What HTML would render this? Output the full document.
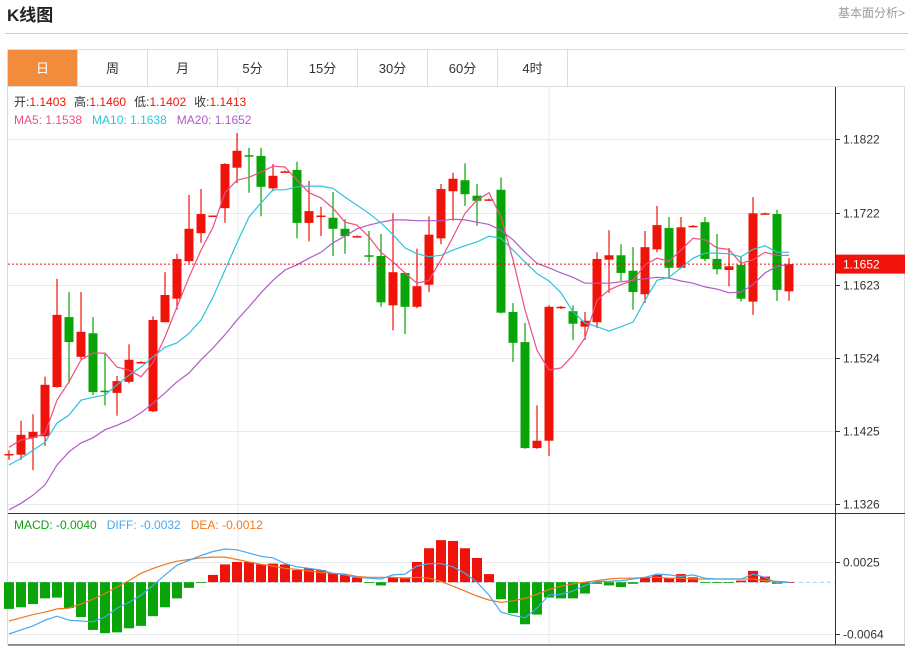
<!DOCTYPE html>
<html><head><meta charset="utf-8"><style>
html,body{margin:0;padding:0;background:#fff;}
svg{display:block;font-family:"Liberation Sans","Noto Sans CJK SC",sans-serif;}
</style></head><body>
<svg id="svg" width="909" height="646" xmlns="http://www.w3.org/2000/svg">
<text x="7" y="21" font-size="17" font-weight="bold" fill="#222">K线图</text>
<text x="905" y="17" font-size="12" fill="#999" text-anchor="end">基本面分析&gt;</text>
<line x1="5" y1="33.5" x2="908" y2="33.5" stroke="#ccc"/>
<g id="tabs"></g>
<rect x="7.5" y="86.5" width="897" height="558" fill="none" stroke="#ddd"/>
<g id="grid"></g>
<g id="plot"></g>
<g id="axis"></g>
<text x="14" y="106" font-size="12"><tspan fill="#333">开:</tspan><tspan fill="#f0130a">1.1403</tspan><tspan fill="#333" dx="8">高:</tspan><tspan fill="#f0130a">1.1460</tspan><tspan fill="#333" dx="8">低:</tspan><tspan fill="#f0130a">1.1402</tspan><tspan fill="#333" dx="8">收:</tspan><tspan fill="#f0130a">1.1413</tspan></text>
<text x="14" y="124" font-size="12"><tspan fill="#ee4f82">MA5: 1.1538</tspan><tspan fill="#2fc3dc" dx="10">MA10: 1.1638</tspan><tspan fill="#b05bc8" dx="10">MA20: 1.1652</tspan></text>
<text x="14" y="529" font-size="12"><tspan fill="#10a010">MACD: -0.0040</tspan><tspan fill="#4aa8f0" dx="10">DIFF: -0.0032</tspan><tspan fill="#f07820" dx="10">DEA: -0.0012</tspan></text>
</svg>
<script>
const opens=[1.1393,1.1393,1.1416,1.1418,1.1485,1.1580,1.1526,1.1558,1.1480,1.1477,1.1492,1.1518,1.1452,1.1573,1.1605,1.1656,1.1694,1.1717,1.1728,1.1783,1.1800,1.1799,1.1755,1.1777,1.1780,1.1708,1.1717,1.1715,1.1700,1.1689,1.1664,1.1663,1.1596,1.1640,1.1594,1.1624,1.1687,1.1751,1.1766,1.1745,1.1739,1.1753,1.1587,1.1546,1.1402,1.1412,1.1592,1.1588,1.1567,1.1573,1.1658,1.1664,1.1643,1.1611,1.1672,1.1701,1.1647,1.1702,1.1709,1.1659,1.1644,1.1651,1.1601,1.1720,1.1720,1.1615];
const closes=[1.1394,1.1420,1.1424,1.1488,1.1583,1.1546,1.1560,1.1478,1.1478,1.1493,1.1522,1.1519,1.1576,1.1610,1.1659,1.1700,1.1720,1.1718,1.1788,1.1806,1.1799,1.1757,1.1772,1.1778,1.1708,1.1724,1.1718,1.1700,1.1690,1.1690,1.1663,1.1600,1.1641,1.1594,1.1622,1.1692,1.1754,1.1768,1.1747,1.1738,1.1740,1.1586,1.1545,1.1402,1.1412,1.1594,1.1594,1.1571,1.1575,1.1659,1.1664,1.1640,1.1614,1.1675,1.1705,1.1647,1.1702,1.1704,1.1659,1.1645,1.1649,1.1605,1.1721,1.1721,1.1617,1.1652];
const highs=[1.1399,1.1439,1.1448,1.1499,1.1632,1.1614,1.1614,1.1580,1.1530,1.1500,1.1543,1.1520,1.1581,1.1641,1.1666,1.1746,1.1754,1.1718,1.1789,1.1830,1.1810,1.1810,1.1788,1.1779,1.1791,1.1765,1.1730,1.1750,1.1713,1.1691,1.1697,1.1693,1.1721,1.1641,1.1673,1.1717,1.1761,1.1776,1.1789,1.1761,1.1741,1.1770,1.1599,1.1572,1.1460,1.1596,1.1595,1.1596,1.1587,1.1668,1.1698,1.1679,1.1675,1.1697,1.1731,1.1716,1.1716,1.1705,1.1716,1.1693,1.1674,1.1662,1.1743,1.1722,1.1726,1.1660];
const lows=[1.1386,1.1386,1.1372,1.1405,1.1484,1.1490,1.1523,1.1474,1.1460,1.1446,1.1490,1.1518,1.1451,1.1573,1.1590,1.1653,1.1681,1.1717,1.1708,1.1762,1.1749,1.1717,1.1751,1.1776,1.1687,1.1683,1.1690,1.1663,1.1666,1.1689,1.1655,1.1594,1.1562,1.1557,1.1592,1.1614,1.1679,1.1711,1.1731,1.1704,1.1739,1.1585,1.1519,1.1401,1.1401,1.1391,1.1591,1.1549,1.1549,1.1565,1.1613,1.1629,1.1590,1.1599,1.1668,1.1632,1.1647,1.1702,1.1656,1.1638,1.1622,1.1601,1.1583,1.1720,1.1602,1.1602];
const ma5=[1.1403,1.1413,1.1416,1.1422,1.1467,1.1492,1.1522,1.1531,1.1531,1.1512,1.1508,1.1499,1.1518,1.1553,1.1594,1.1634,1.1671,1.1702,1.1749,1.1766,1.1770,1.1777,1.1785,1.1784,1.1766,1.1749,1.1742,1.1728,1.1709,1.1705,1.1689,1.1668,1.1655,1.1640,1.1626,1.1630,1.1658,1.1689,1.1721,1.1739,1.1749,1.1716,1.1658,1.1590,1.1535,1.1508,1.1511,1.1528,1.1552,1.1603,1.1617,1.1624,1.1630,1.1651,1.1660,1.1656,1.1671,1.1687,1.1685,1.1674,1.1672,1.1653,1.1658,1.1668,1.1664,1.1664];
const ma10=[1.1379,1.1388,1.1399,1.1410,1.1436,1.1447,1.1467,1.1471,1.1474,1.1488,1.1501,1.1512,1.1526,1.1539,1.1545,1.1558,1.1576,1.1607,1.1644,1.1681,1.1716,1.1735,1.1753,1.1753,1.1757,1.1758,1.1758,1.1755,1.1743,1.1732,1.1721,1.1708,1.1692,1.1674,1.1666,1.1662,1.1664,1.1671,1.1677,1.1682,1.1690,1.1687,1.1671,1.1655,1.1639,1.1629,1.1613,1.1587,1.1572,1.1567,1.1561,1.1567,1.1573,1.1603,1.1630,1.1634,1.1647,1.1660,1.1667,1.1667,1.1666,1.1662,1.1672,1.1677,1.1668,1.1668];
const ma20=[1.1318,1.1327,1.1338,1.1352,1.1379,1.1397,1.1409,1.1416,1.1427,1.1433,1.1440,1.1450,1.1463,1.1477,1.1492,1.1504,1.1522,1.1538,1.1556,1.1576,1.1594,1.1613,1.1630,1.1644,1.1651,1.1660,1.1668,1.1681,1.1690,1.1700,1.1705,1.1709,1.1712,1.1712,1.1711,1.1711,1.1711,1.1713,1.1712,1.1709,1.1706,1.1698,1.1685,1.1668,1.1653,1.1647,1.1640,1.1634,1.1626,1.1626,1.1626,1.1628,1.1630,1.1632,1.1634,1.1633,1.1629,1.1626,1.1621,1.1618,1.1613,1.1614,1.1624,1.1640,1.1649,1.1652];
const macd=[-0.0033,-0.0031,-0.0027,-0.0020,-0.0019,-0.0032,-0.0043,-0.0059,-0.0063,-0.0062,-0.0057,-0.0054,-0.0042,-0.0031,-0.0020,-0.0007,-0.0001,0.0009,0.0022,0.0025,0.0025,0.0022,0.0023,0.0022,0.0015,0.0017,0.0015,0.0011,0.0009,0.0006,-0.0001,-0.0004,0.0006,0.0006,0.0025,0.0042,0.0052,0.0051,0.0042,0.0030,0.0010,-0.0021,-0.0038,-0.0052,-0.0040,-0.0019,-0.0020,-0.0020,-0.0014,-0.0002,-0.0004,-0.0006,-0.0002,0.0006,0.0009,0.0005,0.0010,0.0006,-0.0001,-0.0001,-0.0001,0.0002,0.0014,0.0007,-0.0002,0.0000];
const diff=[-0.0064,-0.0059,-0.0054,-0.0047,-0.0042,-0.0047,-0.0048,-0.0049,-0.0043,-0.0032,-0.0025,-0.0016,-0.0004,0.0009,0.0021,0.0027,0.0033,0.0038,0.0041,0.0040,0.0036,0.0032,0.0030,0.0023,0.0019,0.0017,0.0015,0.0011,0.0009,0.0006,0.0005,0.0004,0.0009,0.0010,0.0020,0.0023,0.0023,0.0019,0.0011,0.0000,-0.0016,-0.0037,-0.0041,-0.0044,-0.0032,-0.0016,-0.0015,-0.0011,-0.0004,0.0001,0.0001,0.0002,0.0004,0.0006,0.0010,0.0009,0.0007,0.0009,0.0005,0.0004,0.0004,0.0004,0.0010,0.0006,-0.0001,0.0000];
const dea=[-0.0048,-0.0044,-0.0040,-0.0037,-0.0033,-0.0032,-0.0027,-0.0021,-0.0014,-0.0006,0.0002,0.0011,0.0017,0.0022,0.0026,0.0028,0.0030,0.0031,0.0031,0.0028,0.0025,0.0022,0.0020,0.0017,0.0016,0.0014,0.0012,0.0011,0.0010,0.0007,0.0006,0.0006,0.0006,0.0005,0.0006,0.0005,0.0001,-0.0005,-0.0011,-0.0017,-0.0022,-0.0025,-0.0023,-0.0020,-0.0015,-0.0009,-0.0005,-0.0002,0.0000,0.0002,0.0004,0.0005,0.0005,0.0006,0.0006,0.0005,0.0005,0.0004,0.0004,0.0004,0.0004,0.0004,0.0004,0.0002,0.0001,0.0000];
const priceTicks=[1.1822,1.1722,1.1623,1.1524,1.1425,1.1326];
const macdTicks=[0.0025,-0.0064];
const tabLabels=['日','周','月','5分','15分','30分','60分','4时'];

const NS='http://www.w3.org/2000/svg';
function el(tag,attrs,parent){const e=document.createElementNS(NS,tag);for(const k in attrs)e.setAttribute(k,attrs[k]);parent.appendChild(e);return e;}
const xOf=i=>9+12*i;
const yP=p=>139+(1.1822-p)*(365/(1.1822-1.1326));
const yM=v=>582.2-v*(72/0.0089);
const tabs=document.getElementById('tabs'),grid=document.getElementById('grid'),plot=document.getElementById('plot'),axis=document.getElementById('axis');

tabLabels.forEach((t,i)=>{
  const g=el('g',{},tabs);
  
  
  el('rect',{x:7.5+70*i,y:49.5,width:70,height:37,fill:i===0?'#f28c3c':'#fff',stroke:'#ddd'},g);
  const tx=el('text',{x:42.5+70*i,y:73,'font-size':13,'text-anchor':'middle',fill:i===0?'#fff':'#333'},g);
  tx.textContent=t;
});
el('line',{x1:567,y1:49.5,x2:905,y2:49.5,stroke:'#ddd'},tabs);

[238,549].forEach(x=>{el('line',{x1:x,y1:87,x2:x,y2:644,stroke:'#e6ebf0'},grid);});
priceTicks.forEach(p=>{
  const y=Math.round(yP(p))+0.5;
  el('line',{x1:8,y1:y,x2:835,y2:y,stroke:'#e6ebf0'},grid);
  el('line',{x1:835,y1:y,x2:840,y2:y,stroke:'#333'},axis);
  const t=el('text',{x:843,y:y+4,'font-size':12,fill:'#333'},axis);
  
  
  t.textContent=p.toFixed(4);
});
macdTicks.forEach(v=>{
  const y=Math.round(yM(v))+0.5;
  el('line',{x1:8,y1:y,x2:835,y2:y,stroke:'#e6ebf0'},grid);
  el('line',{x1:835,y1:y,x2:840,y2:y,stroke:'#333'},axis);
  const t=el('text',{x:843,y:y+4,'font-size':12,fill:'#333'},axis);
  
  
  t.textContent=v.toFixed(4);
});
el('line',{x1:835.5,y1:87,x2:835.5,y2:645,stroke:'#333'},axis);
el('line',{x1:8,y1:513.5,x2:905,y2:513.5,stroke:'#333'},axis);
el('line',{x1:8,y1:645,x2:905,y2:645,stroke:'#333'},axis);

// candles
closes.forEach((c,i)=>{
  const o=opens[i],up=c>=o,col=up?'#f0130a':'#08a408',x=xOf(i);
  const g=el('g',{},plot);
  
  
  el('line',{x1:x,y1:yP(highs[i]),x2:x,y2:yP(lows[i]),stroke:col,'stroke-width':1.2},g);
  const top=yP(Math.max(o,c)),h=Math.max(1.5,Math.abs(yP(o)-yP(c)));
  el('rect',{x:x-4.5,y:top,width:9,height:h,fill:col},g);
});
function line(arr,fy,col,name){
  const p=el('polyline',{points:arr.map((v,i)=>xOf(i)+','+fy(v).toFixed(1)).join(' '),fill:'none',stroke:col,'stroke-width':1.2},plot);
  
  
}
line(ma20,yP,'#b05bc8','ma20-line');
line(ma10,yP,'#2fc3dc','ma10-line');
line(ma5,yP,'#ee4f82','ma5-line');

// current price line
const last=closes[closes.length-1],ly=yP(last);
el('line',{x1:8,y1:ly,x2:835,y2:ly,stroke:'#f0130a','stroke-dasharray':'2,2'},plot);
el('rect',{x:836,y:ly-9.5,width:69,height:19,fill:'#f0130a'},axis);
const lt=el('text',{x:843,y:ly+4.5,'font-size':12,fill:'#fff'},axis);


lt.textContent=last.toFixed(4);

// macd
el('line',{x1:8,y1:yM(0),x2:835,y2:yM(0),stroke:'#9fd4ee','stroke-dasharray':'4,3'},plot);
macd.forEach((v,i)=>{
  const y0=yM(0),y1=yM(v);
  const r=el('rect',{x:xOf(i)-5,y:Math.min(y0,y1),width:10,height:Math.max(0.8,Math.abs(y1-y0)),fill:v>=0?'#f0130a':'#08a408'},plot);
  
  
});
line(dea,yM,'#f07820','dea-line');
line(diff,yM,'#4aa8f0','diff-line');
</script>
</body></html>
